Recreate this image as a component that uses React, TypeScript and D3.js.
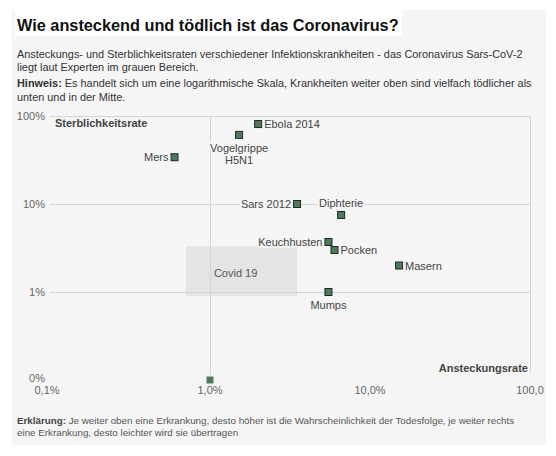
import * as d3 from "d3";

// Ansteckungsrate (x) und Sterblichkeitsrate (y), beide in Prozent
const diseases = [
  "Ebola 2014",
  "Vogelgrippe H5N1",
  "Mers",
  "Sars 2012",
  "Diphterie",
  "Keuchhusten",
  "Pocken",
  "Masern",
  "Mumps",
  "",
];
const infectionRate = [2.0, 1.52, 0.6, 3.5, 6.6, 5.5, 6.0, 15.2, 5.5, 1.0];
const deathRate = [81, 61, 34, 10, 7.5, 3.7, 3.0, 2.0, 1.0, 0];

// Covid-19 Bereich laut Experten
const covidInfection = [0.71, 3.5];
const covidDeath = [0.9, 3.3];

const yTicks = [100, 10, 1, 0];
const yTickLabels = ["100%", "10%", "1%", "0%"];
const xTicks = [0.1, 1, 10, 100];
const xTickLabels = ["0,1%", "1,0%", "10,0%", "100,0"];

const labelPlacement: Record<string, string> = {
  "Ebola 2014": "right",
  "Vogelgrippe H5N1": "below",
  Mers: "left",
  "Sars 2012": "left",
  Diphterie: "above",
  Keuchhusten: "left",
  Pocken: "right",
  Masern: "right",
  Mumps: "below",
};

const W = 556;
const H = 456;
const FONT = "'Liberation Sans', Arial, sans-serif";
const BG = "#f5f5f5";
const GRID = "#d4d4d4";

export default function App() {
  const x = d3.scaleLog().domain([0.1, 100]).range([50, 530]);
  const y = d3.scaleLog().domain([0.1, 100]).range([380, 116]);
  const yv = (v: number) => y(Math.max(v, 0.1));

  const points = diseases.map((name, i) => ({
    name,
    cx: x(infectionRate[i]),
    cy: yv(deathRate[i]),
  }));

  const label = (p: { name: string; cx: number; cy: number }) => {
    const side = labelPlacement[p.name];
    const common = {
      fontSize: 11,
      fill: "#444",
      stroke: BG,
      strokeWidth: 4,
      paintOrder: "stroke" as const,
      strokeLinejoin: "round" as const,
    };
    if (side === "right")
      return (
        <text {...common} x={p.cx + 6} y={p.cy + 4}>
          {p.name}
        </text>
      );
    if (side === "left")
      return (
        <text {...common} x={p.cx - 6} y={p.cy + 4} textAnchor="end">
          {p.name}
        </text>
      );
    if (side === "above")
      return (
        <text {...common} x={p.cx} y={p.cy - 8} textAnchor="middle">
          {p.name}
        </text>
      );
    if (side === "below")
      return (
        <text {...common} x={p.cx} textAnchor="middle">
          {p.name.split(" ").map((w, k) => (
            <tspan key={k} x={p.cx} y={p.cy + 17 + k * 12}>
              {w}
            </tspan>
          ))}
        </text>
      );
    return null;
  };

  const covidX0 = x(covidInfection[0]);
  const covidX1 = x(covidInfection[1]);
  const covidY0 = y(covidDeath[1]);
  const covidY1 = y(covidDeath[0]);

  return (
    <svg
      width={W}
      height={H}
      style={{ position: "absolute", left: 0, top: 0, fontFamily: FONT }}
    >
      <rect x={0} y={0} width={W} height={H} fill="#fff" />
      <rect x={12} y={10} width={534} height={435} fill={BG} />
      <rect x={15} y={10} width={387} height={26} fill="#fff" />

      <text x={17} y={31} fontSize={16.3} fontWeight="bold" fill="#111">
        Wie ansteckend und tödlich ist das Coronavirus?
      </text>

      <g fontSize={10.9} fill="#333">
        <text x={17} y={58}>
          Ansteckungs- und Sterblichkeitsraten verschiedener Infektionskrankheiten - das Coronavirus Sars-CoV-2
        </text>
        <text x={17} y={71}>
          liegt laut Experten im grauen Bereich.
        </text>
        <text x={17} y={87}>
          <tspan fontWeight="bold">Hinweis:</tspan> Es handelt sich um eine logarithmische Skala, Krankheiten weiter oben sind vielfach tödlicher als
        </text>
        <text x={17} y={101}>
          unten und in der Mitte.
        </text>
      </g>

      {/* Covid-Bereich */}
      <rect
        x={covidX0}
        y={covidY0}
        width={covidX1 - covidX0}
        height={covidY1 - covidY0}
        fill="#e4e4e4"
      />

      {/* Gitter */}
      <g stroke={GRID} strokeWidth={1}>
        {yTicks
          .filter((t) => t > 0)
          .map((t) => (
            <line key={t} x1={50} x2={530.5} y1={y(t) + 0.5} y2={y(t) + 0.5} />
          ))}
        <line x1={x(1) + 0.5} x2={x(1) + 0.5} y1={y(100)} y2={375} />
        <line x1={x(100) + 0.5} x2={x(100) + 0.5} y1={y(100)} y2={373} />
      </g>

      <text
        x={(covidX0 + covidX1) / 2 - 6}
        y={(covidY0 + covidY1) / 2 + 6}
        textAnchor="middle"
        fontSize={11}
        fill="#4d5a4f"
      >
        Covid 19
      </text>

      {/* Achsenbeschriftung */}
      <g fontSize={11} fill="#666" textAnchor="end">
        {yTicks.map((t, i) => (
          <text key={t} x={45} y={yv(t) + 4 - (t === 0 ? 2 : 0)}>
            {yTickLabels[i]}
          </text>
        ))}
      </g>
      <g fontSize={11} fill="#666" textAnchor="middle">
        {xTicks.map((t, i) => (
          <text key={t} x={x(t) - (i === 0 ? 3 : 0)} y={394}>
            {xTickLabels[i]}
          </text>
        ))}
      </g>
      <text x={55} y={127} fontSize={11} fontWeight="bold" fill="#444">
        Sterblichkeitsrate
      </text>
      <text x={528} y={372} fontSize={11} fontWeight="bold" fill="#444" textAnchor="end">
        Ansteckungsrate
      </text>

      {/* Punkte */}
      {points.map((p, i) => (
        <rect
          key={i}
          x={p.cx - 3.5}
          y={p.cy - 3.5}
          width={7}
          height={7}
          fill="#4f7a5d"
          stroke={p.name ? "#1e2a20" : "none"}
          strokeWidth={1}
        />
      ))}
      {points.map((p, i) => (
        <g key={"l" + i}>{label(p)}</g>
      ))}

      <g fontSize={9.8} fill="#555">
        <text x={17} y={424}>
          <tspan fontWeight="bold" fill="#444">Erklärung:</tspan> Je weiter oben eine Erkrankung, desto höher ist die Wahrscheinlichkeit der Todesfolge, je weiter rechts
        </text>
        <text x={17} y={436}>
          eine Erkrankung, desto leichter wird sie übertragen
        </text>
      </g>
    </svg>
  );
}
